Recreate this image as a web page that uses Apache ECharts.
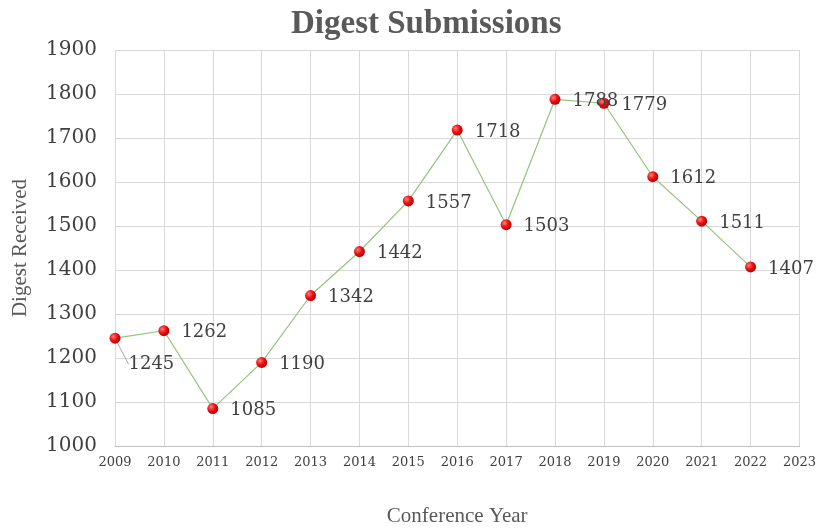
<!DOCTYPE html>
<html><head><meta charset="utf-8">
<script src="https://cdn.jsdelivr.net/npm/echarts@6/dist/echarts.min.js"></script>
<style>html,body{margin:0;padding:0;background:#fff}#c{width:819px;height:532px}</style>
</head><body><div id="c"></div>
<script>
const years = [2009,2010,2011,2012,2013,2014,2015,2016,2017,2018,2019,2020,2021,2022];
const values = [1245,1262,1085,1190,1342,1442,1557,1718,1503,1788,1779,1612,1511,1407];
const xMin = 2009, xMax = 2023, yMin = 1000, yMax = 1900, yStep = 100;
const titleText = 'Digest Submissions';
const xName = 'Conference Year';
const yName = 'Digest Received';

const chart = echarts.init(document.getElementById('c'));
const numFont = 'DejaVu Serif';
const txtFont = 'Liberation Serif';
const seriesData = years.map((y, i) => {
  const item = { value: [y, values[i]] };
  if (i === 0) item.labelLine = { show: true };
  return item;
});
chart.setOption({
  animation: false,
  title: { text: titleText, left: 286, top: 3,
    textStyle: { fontFamily: txtFont, fontWeight: 'bold', fontSize: 33, color: '#595959' } },
  grid: { left: 115, right: 17, top: 50, bottom: 84 },
  xAxis: {
    type: 'value', min: xMin, max: xMax, interval: 1,
    name: xName, nameLocation: 'middle', nameGap: 60,
    nameTextStyle: { fontFamily: txtFont, fontSize: 21, color: '#595959' },
    axisLine: { show: true, lineStyle: { color: '#bfbfbf' } },
    axisTick: { show: false },
    axisLabel: { fontFamily: numFont, fontSize: 13, color: '#404040', margin: 10, formatter: v => String(v) },
    splitLine: { show: true, lineStyle: { color: '#d9d9d9' } }
  },
  yAxis: {
    type: 'value', min: yMin, max: yMax, interval: yStep,
    name: yName, nameLocation: 'middle', nameGap: 84,
    nameTextStyle: { fontFamily: txtFont, fontSize: 21, color: '#595959' },
    axisLine: { show: false }, axisTick: { show: false },
    axisLabel: { fontFamily: numFont, fontSize: 20, color: '#404040', margin: 18, formatter: v => String(v) },
    splitLine: { show: true, lineStyle: { color: '#d9d9d9' } }
  },
  series: [{
    type: 'line',
    data: seriesData,
    symbol: 'circle', symbolSize: 11,
    lineStyle: { color: '#93c47d', width: 1.2 },
    itemStyle: {
      color: new echarts.graphic.RadialGradient(0.35, 0.35, 0.7, [
        { offset: 0, color: '#ff8080' }, { offset: 0.5, color: '#ee1111' }, { offset: 1, color: '#b00000' }
      ]),
      borderWidth: 0
    },
    label: { show: true, position: 'right', distance: 12, offset: [0, 3],
      fontFamily: numFont, fontSize: 18, color: '#404040',
      formatter: p => String(p.value[1]) },
    labelLine: { show: false, lineStyle: { color: '#a6a6a6', width: 1 } },
    labelLayout: p => p.dataIndex === 0 ? { dx: -4, dy: 26 } : { dy: 2 }
  }]
});
</script></body></html>
